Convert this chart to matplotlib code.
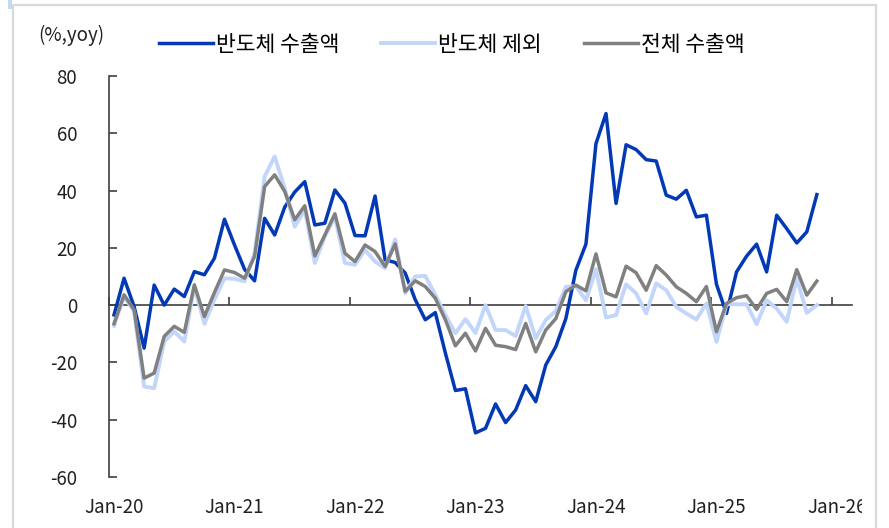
import matplotlib
matplotlib.use("Agg")
from matplotlib import pyplot as plt
from matplotlib.patches import Rectangle
from matplotlib.transforms import Bbox, TransformedBbox, blended_transform_factory

plt.rcParams["font.family"] = ["Noto Sans CJK KR", "DejaVu Sans"]
plt.rcParams["axes.unicode_minus"] = False

# Monthly yoy growth (%), Jan-20 .. Nov-25
semi = [-3.4, 9.4, -0.5, -15.0, 7.0, 0.0, 5.6, 3.0, 11.7, 10.6, 16.4, 30.0,
        21.0, 12.5, 8.5, 30.3, 24.5, 34.2, 39.5, 43.1, 28.0, 28.6, 40.2, 35.6,
        24.3, 24.2, 38.1, 15.8, 14.9, 11.2, 1.9, -5.1, -2.6, -16.7, -29.8, -29.2,
        -44.6, -43.0, -34.5, -41.0, -36.6, -28.1, -33.7, -20.9, -14.5, -4.7, 12.2, 21.3,
        56.4, 66.9, 35.5, 56.0, 54.3, 50.8, 50.3, 38.4, 37.0, 40.1, 30.8, 31.4,
        7.3, -2.9, 11.6, 17.1, 21.3, 11.6, 31.4, 26.7, 21.7, 25.6, 38.6]
non_semi = [-7.2, 3.0, -2.2, -28.4, -29.0, -12.7, -9.2, -12.7, 6.5, -6.5, 1.9, 9.4,
            9.2, 8.3, 18.1, 44.9, 51.9, 40.8, 27.4, 33.3, 14.7, 24.0, 30.9, 14.7,
            14.1, 19.3, 15.2, 12.9, 23.0, 4.2, 10.0, 10.2, 3.6, -3.4, -9.8, -4.9,
            -9.7, 0.0, -8.7, -8.7, -10.8, -0.3, -11.6, -5.2, -2.0, 6.4, 6.6, 1.7,
            12.5, -4.3, -3.5, 7.3, 4.1, -2.9, 7.6, 5.2, -0.6, -2.9, -5.0, 0.6,
            -12.8, 0.3, 0.3, 0.3, -6.6, 1.7, -1.2, -5.8, 9.3, -2.7, 0.0]
total = [-6.5, 3.6, -1.6, -25.5, -23.7, -10.9, -7.4, -9.5, 7.1, -4.0, 4.4, 12.3,
         11.4, 9.4, 17.0, 41.4, 45.5, 39.7, 29.8, 34.7, 17.2, 24.5, 31.9, 18.1,
         15.2, 21.0, 18.7, 13.5, 21.4, 4.8, 8.5, 6.5, 2.4, -5.1, -14.2, -9.8,
         -16.0, -8.1, -14.0, -14.5, -15.5, -6.4, -16.3, -8.7, -4.7, 4.7, 7.0, 5.0,
         17.9, 4.3, 2.9, 13.6, 11.3, 5.2, 13.8, 10.5, 6.4, 4.1, 1.2, 6.5,
         -9.3, 0.6, 2.6, 3.3, -1.5, 4.1, 5.5, 1.2, 12.4, 3.5, 8.4]
year_labels = ["Jan-20", "Jan-21", "Jan-22", "Jan-23", "Jan-24", "Jan-25", "Jan-26"]
series_names = ["반도체 수출액", "반도체 제외", "전체 수출액"]

months = list(range(len(semi)))

fig = plt.figure(figsize=(8.89, 5.28), dpi=100)
ax = fig.add_axes([109 / 889, 1 - 477 / 528, (852 - 109) / 889, (477 - 76) / 528])

ax.plot(months, semi, color="#0339b5", lw=2.5, label=series_names[0], zorder=3)
ax.plot(months, non_semi, color="#c2d6fb", lw=2.8, label=series_names[1], zorder=3)
ax.plot(months, total, color="#808080", lw=2.5, label=series_names[2], zorder=3)

ax.set_xlim(-0.5, 73.5)
ax.set_ylim(-60, 80)
ax.set_yticks(range(-60, 81, 20))

for s in ["top", "right"]:
    ax.spines[s].set_visible(False)
ax.spines["left"].set_color("#404040")
ax.spines["bottom"].set_color("#404040")
ax.spines["bottom"].set_position(("data", 0))
ax.spines["left"].set_linewidth(1.2)
ax.spines["bottom"].set_linewidth(1.2)

ax.tick_params(axis="y", direction="in", length=6, width=1.2, color="#404040",
               pad=23, labelsize=13.5, labelcolor="#202020")
ax.set_xticks([-0.5 + 12 * k for k in range(len(year_labels))])
ax.tick_params(axis="x", direction="in", length=6, width=1.2, color="#404040",
               labelbottom=False)

trans = blended_transform_factory(ax.transData, ax.transAxes)
clip = TransformedBbox(Bbox([[0, 0], [862 / 889, 1]]), fig.transFigure)
for k, lab in enumerate(year_labels):
    t = ax.text(12 * k, -0.077, lab, transform=trans, ha="center", va="center",
                fontsize=13.5, color="#202020", clip_on=True)
    t.set_clip_box(clip)

fig.text(38 / 889, 1 - 35 / 528, "(%,yoy)", fontsize=13.5, color="#202020",
         ha="left", va="center")

ax.legend(loc="center left", bbox_to_anchor=(159 / 889, 1 - 45 / 528),
          bbox_transform=fig.transFigure, ncol=3, frameon=False,
          fontsize=15.5, handlelength=2.5, handletextpad=0.15, columnspacing=1.95,
          borderaxespad=0, borderpad=0)

# outer frame and small corner mark
fig.patches.append(Rectangle((13 / 889, -0.05), (876 - 13) / 889, 1.05 - 5 / 528,
                             transform=fig.transFigure, fill=False,
                             edgecolor="#d9d9d9", lw=1.6))
fig.patches.append(Rectangle((8 / 889, 1 - 9 / 528), 4 / 889, 9 / 528,
                             transform=fig.transFigure, color="#c5d9f1", lw=0))

plt.savefig("out.png", dpi=100)
